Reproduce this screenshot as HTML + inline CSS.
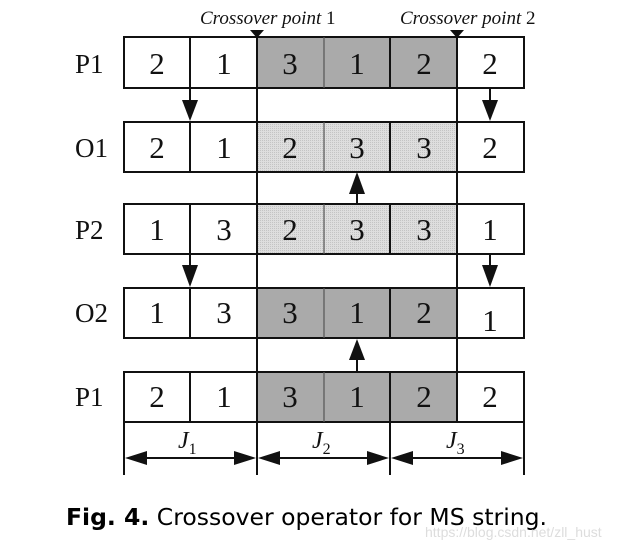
<!DOCTYPE html>
<html><head><style>
body{margin:0;background:#fff;width:635px;height:550px;overflow:hidden}
</style></head><body>
<svg width="635" height="550" xmlns="http://www.w3.org/2000/svg">
<defs>
<pattern id="dot" width="2" height="2" patternUnits="userSpaceOnUse">
<rect width="2" height="2" fill="#dedede"/><rect width="1" height="1" fill="#c4c4c4"/>
</pattern>
</defs>
<g font-family="Liberation Serif, serif" font-size="31" text-anchor="middle" fill="#111">
<rect x="257" y="37" width="200" height="51" fill="#aaaaaa"/>
<rect x="257" y="122" width="200" height="50" fill="url(#dot)"/>
<rect x="257" y="204" width="200" height="50" fill="url(#dot)"/>
<rect x="257" y="288" width="200" height="50" fill="#aaaaaa"/>
<rect x="257" y="372" width="200" height="50" fill="#aaaaaa"/>
<g fill="none" stroke="#111" stroke-width="2">
<rect x="124" y="37" width="400" height="51"/>
<rect x="124" y="122" width="400" height="50"/>
<rect x="124" y="204" width="400" height="50"/>
<rect x="124" y="288" width="400" height="50"/>
<rect x="124" y="372" width="400" height="50"/>
<path d="M190 37V88M390 37V88M190 122V172M390 122V172M190 204V254M390 204V254M190 288V338M390 288V338M190 372V422M390 372V422"/>
<path d="M324 37V88M324 122V172M324 204V254M324 288V338M324 372V422" stroke="#555" stroke-width="1.2"/>
<path d="M257 30V475M457 30V422M124 422V475M390 422V475M524 422V475"/>
<path d="M190 88V104M490 88V104M190 254V268M490 254V268M357 186V204M357 352V372M140 458H241M273 458H374M406 458H508"/>
</g>
<g fill="#111">
<polygon points="250,30 264,30 257,38"/>
<polygon points="450,30 464,30 457,38"/>
<polygon points="182,100 198,100 190,121"/>
<polygon points="482,100 498,100 490,121"/>
<polygon points="182,265 198,265 190,287"/>
<polygon points="482,265 498,265 490,287"/>
<polygon points="349,194 365,194 357,172"/>
<polygon points="349,360 365,360 357,339"/>
<polygon points="125,458 147,451 147,465"/>
<polygon points="256,458 234,451 234,465"/>
<polygon points="258,458 280,451 280,465"/>
<polygon points="389,458 367,451 367,465"/>
<polygon points="391,458 413,451 413,465"/>
<polygon points="523,458 501,451 501,465"/>
</g>
<g>
<text x="157" y="74">2</text><text x="224" y="74">1</text><text x="290" y="74">3</text><text x="357" y="74">1</text><text x="424" y="74">2</text><text x="490" y="74">2</text>
<text x="157" y="158">2</text><text x="224" y="158">1</text><text x="290" y="158">2</text><text x="357" y="158">3</text><text x="424" y="158">3</text><text x="490" y="158">2</text>
<text x="157" y="240">1</text><text x="224" y="240">3</text><text x="290" y="240">2</text><text x="357" y="240">3</text><text x="424" y="240">3</text><text x="490" y="240">1</text>
<text x="157" y="323">1</text><text x="224" y="323">3</text><text x="290" y="323">3</text><text x="357" y="323">1</text><text x="424" y="323">2</text><text x="490" y="331">1</text>
<text x="157" y="407">2</text><text x="224" y="407">1</text><text x="290" y="407">3</text><text x="357" y="407">1</text><text x="424" y="407">2</text><text x="490" y="407">2</text>
</g>
<g font-size="27" text-anchor="start">
<text x="75" y="73">P1</text><text x="75" y="157">O1</text><text x="75" y="239">P2</text><text x="75" y="322">O2</text><text x="75" y="406">P1</text>
</g>
<g font-size="19" text-anchor="start" font-style="italic">
<text x="200" y="24">Crossover point <tspan font-style="normal">1</tspan></text>
<text x="400" y="24">Crossover point <tspan font-style="normal">2</tspan></text>
</g>
<g font-size="24" font-style="italic" text-anchor="start">
<text x="178" y="448">J<tspan font-size="16" font-style="normal" dy="6">1</tspan></text>
<text x="312" y="448">J<tspan font-size="16" font-style="normal" dy="6">2</tspan></text>
<text x="446" y="448">J<tspan font-size="16" font-style="normal" dy="6">3</tspan></text>
</g>
</g>
<text x="66" y="525" font-family="DejaVu Sans, sans-serif" font-size="23.5" fill="#000"><tspan font-weight="bold">Fig. 4.</tspan> Crossover operator for MS string.</text>
<text x="425" y="537" font-family="Liberation Sans, sans-serif" font-size="14" fill="#ddd">https://blog.csdn.net/zll_hust</text>
</svg>
</body></html>
